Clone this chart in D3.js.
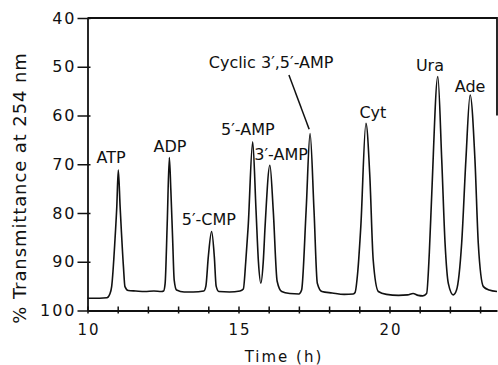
<!DOCTYPE html>
<html>
<head>
<meta charset="utf-8">
<script src="https://cdn.jsdelivr.net/npm/d3@7"></script>
<style>
  body { margin: 0; background: #fff; }
  text { font-family: "DejaVu Sans", sans-serif; fill: #111; }
</style>
</head>
<body>
<svg></svg>
<script>
var vWidth = 498;
var vHeight = 365;

// trace: time (h) and % transmittance
var traceTime = [10.0, 10.4, 10.64, 10.74, 10.80, 10.91, 10.97, 11.02, 11.08, 11.19, 11.24, 11.35,
  11.6, 11.9, 12.2, 12.45,
  12.52, 12.57, 12.64, 12.71, 12.76, 12.82, 12.87, 12.95,
  13.2, 13.5, 13.85,
  13.92, 14.0, 14.11, 14.2, 14.26, 14.35,
  14.7, 15.05,
  15.16, 15.24, 15.32, 15.47, 15.58, 15.66, 15.74, 15.82, 15.88, 16.04, 16.15, 16.28, 16.43,
  16.7, 17.0,
  17.09, 17.24, 17.37, 17.5, 17.61, 17.76,
  18.1, 18.5, 18.8,
  18.86, 18.95, 19.05, 19.22, 19.35, 19.46, 19.63,
  19.9, 20.3, 20.6, 20.78, 20.95, 21.1,
  21.23, 21.32, 21.40, 21.6, 21.73, 21.84, 21.95, 22.11,
  22.22, 22.39, 22.53, 22.67, 22.83, 22.94, 23.11, 23.3, 23.56];
var traceT = [97.5, 97.5, 97.4, 96.6, 95.1, 85.5, 78.7, 71.2, 78.7, 91.0, 95.1, 95.9,
  96.0, 96.1, 96.0, 96.1,
  96.0, 94.5, 82.1, 68.6, 75.3, 85.5, 93.7, 95.8,
  96.2, 96.2, 96.0,
  95.0, 89.0, 83.8, 89.0, 95.0, 96.1,
  96.2, 96.0,
  95.6, 90.0, 82.8, 65.4, 79.4, 90.0, 94.4, 90.0, 82.8, 70.2, 79.4, 94.0, 96.1,
  96.5, 96.6,
  95.8, 79.4, 63.7, 79.4, 94.4, 96.1,
  96.4, 96.7, 96.6,
  96.3, 92.0, 82.8, 61.6, 72.6, 89.6, 96.1,
  96.7, 96.9, 96.8, 96.5, 96.9, 97.0,
  96.5, 88.0, 76.0, 52.0, 69.1, 86.2, 94.5, 96.8,
  95.8, 86.2, 69.1, 55.8, 69.1, 86.2, 95.1, 95.8, 96.1];

// peak names and where their labels sit (time, transmittance of baseline)
var peakNames = ['ATP', 'ADP', '5\u2032-CMP', '5\u2032-AMP', '3\u2032-AMP', 'Cyclic 3\u2032,5\u2032-AMP', 'Cyt', 'Ura', 'Ade'];
var peakLabelTime = [10.78, 12.73, 14.02, 15.31, 16.41, 16.08, 19.45, 21.34, 22.67];
var peakLabelT = [69.7, 67.5, 82.5, 64.0, 69.1, 50.3, 60.5, 50.9, 55.2];

var xTicks = [10, 15, 20];
var yTicks = [40, 50, 60, 70, 80, 90, 100];

var x = d3.scaleLinear().domain([10, 23.56]).range([87.5, 497]);
var y = d3.scaleLinear().domain([40, 100]).range([18, 310.5]);

var svg = d3.select('svg')
    .attr('width', vWidth)
    .attr('height', vHeight);

// frame: top edge and the stub of the right edge
svg.append('path')
    .attr('d', 'M' + x(10) + ',' + y(40) + 'H' + x(23.56) + 'V' + y(60))
    .attr('fill', 'none')
    .attr('stroke', '#111')
    .attr('stroke-width', 1.8);

var yAxis = svg.append('g')
    .attr('transform', 'translate(' + x(10) + ',0)')
    .call(d3.axisLeft(y).tickValues(yTicks).tickSize(6).tickPadding(5).tickSizeOuter(0));

var xAxis = svg.append('g')
    .attr('transform', 'translate(0,' + y(100) + ')')
    .call(d3.axisBottom(x).ticks(14).tickSize(4).tickPadding(10).tickSizeOuter(0)
      .tickFormat(function (d) { return xTicks.indexOf(d) >= 0 ? d : ''; }));

[xAxis, yAxis].forEach(function (a) {
  a.select('.domain').attr('stroke', '#111').attr('stroke-width', 1.8);
  a.selectAll('.tick line').attr('stroke', '#111').attr('stroke-width', 1.5);
  a.selectAll('.tick text')
    .style('font-family', '"DejaVu Sans", sans-serif')
    .attr('fill', '#111');
});
// ticks cross the axis lines
xAxis.selectAll('.tick line').attr('y1', -4).attr('y2', 3);
yAxis.selectAll('.tick line').attr('x1', -10).attr('x2', 3);
yAxis.selectAll('.tick text').style('font-size', '16px').style('letter-spacing', '2px');
xAxis.selectAll('.tick text').style('font-size', '15px').style('letter-spacing', '2px').attr('dx', '1');

var line = d3.line()
    .x(function (d, i) { return x(traceTime[i]); })
    .y(function (d) { return y(d); })
    .curve(d3.curveMonotoneX);

svg.append('path')
    .datum(traceT)
    .attr('d', line)
    .attr('fill', 'none')
    .attr('stroke', '#111')
    .attr('stroke-width', 1.6)
    .attr('stroke-linejoin', 'round');

svg.selectAll('.peak')
    .data(peakNames)
    .enter()
    .append('text')
    .attr('class', 'peak')
    .attr('x', function (d, i) { return x(peakLabelTime[i]); })
    .attr('y', function (d, i) { return y(peakLabelT[i]); })
    .attr('text-anchor', 'middle')
    .style('font-size', '16px')
    .text(function (d) { return d; });

// leader from the cyclic AMP label down to its peak
svg.append('line')
    .attr('x1', x(16.67)).attr('y1', y(51.7))
    .attr('x2', x(17.34)).attr('y2', y(62.8))
    .attr('stroke', '#111')
    .attr('stroke-width', 1.5);

svg.append('text')
    .attr('x', 284)
    .attr('y', 362)
    .attr('text-anchor', 'middle')
    .style('font-size', '15px')
    .style('letter-spacing', '2px')
    .text('Time (h)');

svg.append('text')
    .attr('transform', 'translate(26,188) rotate(-90)')
    .attr('text-anchor', 'middle')
    .style('font-size', '18px')
    .style('letter-spacing', '0.9px')
    .text('% Transmittance at 254 nm');
</script>
</body>
</html>
